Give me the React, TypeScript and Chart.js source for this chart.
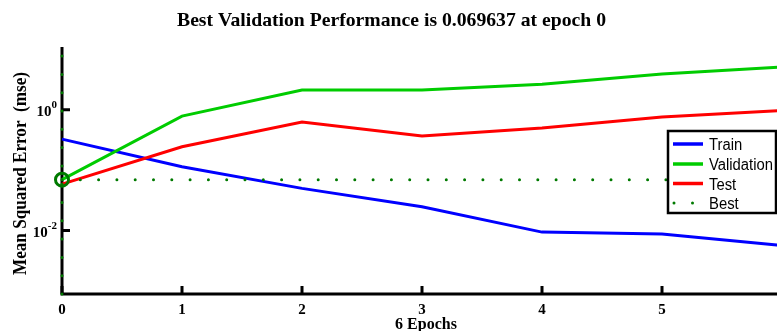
import React, { useEffect, useRef } from "react";
import { Chart, registerables } from "chart.js";

Chart.register(...registerables);

// ---- data ----
const epochs = [0, 1, 2, 3, 4, 5, 6];
const trainPerf = [0.327, 0.114, 0.05, 0.0248, 0.00944, 0.00875, 0.00564];
const validationPerf = [0.069637, 0.787, 2.12, 2.12, 2.66, 3.9, 5.13];
const testPerf = [0.0589, 0.244, 0.626, 0.367, 0.498, 0.757, 0.97];
const bestEpoch = 0;
const bestPerf = 0.069637;
const xTickValues = [0, 1, 2, 3, 4, 5, 6];
const yTickExponents = [0, -2];
const yMinExp = -3.05;
const yMaxExp = 1.04;
const legendLabels = ["Train", "Validation", "Test", "Best"];
const titleText = "Best Validation Performance is 0.069637 at epoch 0";
const xTitleText = "6 Epochs";
const yTitleText = "Mean Squared Error  (mse)";

const BLUE = "#0000ff";
const GREEN = "#00cc00";
const RED = "#ff0000";
const DARKGREEN = "#007a00";
const SERIF = '"Liberation Serif", "Times New Roman", serif';
const SANS = '"Liberation Sans", Arial, sans-serif';

function fitText(
  ctx: CanvasRenderingContext2D,
  text: string,
  x: number,
  y: number,
  width: number,
  align: CanvasTextAlign
) {
  const w = ctx.measureText(text).width;
  const sx = width / w;
  ctx.save();
  ctx.translate(x, y);
  ctx.scale(sx, 1);
  ctx.textAlign = align;
  ctx.fillText(text, 0, 0);
  ctx.restore();
}

export default function App() {
  const ref = useRef<HTMLCanvasElement | null>(null);

  useEffect(() => {
    const canvas = ref.current;
    if (!canvas) return;

    const decorPlugin = {
      id: "decor",
      beforeDatasetsDraw(chart: any) {
        const ctx: CanvasRenderingContext2D = chart.ctx;
        const { left, right, top, bottom } = chart.chartArea;
        const xs = chart.scales.x;
        const ys = chart.scales.y;
        ctx.save();
        ctx.strokeStyle = "#000";
        ctx.lineWidth = 3;
        ctx.lineCap = "butt";
        ctx.beginPath();
        ctx.moveTo(left, top);
        ctx.lineTo(left, bottom + 1.5);
        ctx.moveTo(left - 1.5, bottom);
        ctx.lineTo(right, bottom);
        ctx.stroke();
        ctx.beginPath();
        xTickValues.forEach((v) => {
          const px = xs.getPixelForValue(v);
          ctx.moveTo(px, bottom);
          ctx.lineTo(px, bottom - 8);
        });
        yTickExponents.forEach((e) => {
          const py = ys.getPixelForValue(Math.pow(10, e));
          ctx.moveTo(left, py);
          ctx.lineTo(left + 8, py);
        });
        ctx.stroke();
        ctx.restore();
      },
      afterDraw(chart: any) {
        const ctx: CanvasRenderingContext2D = chart.ctx;
        const { bottom } = chart.chartArea;
        const xs = chart.scales.x;
        const ys = chart.scales.y;
        ctx.save();
        ctx.fillStyle = "#000";
        ctx.textBaseline = "alphabetic";

        // title
        ctx.font = `bold 19px ${SERIF}`;
        fitText(ctx, titleText, 177, 26, 429, "left");

        // x tick labels
        ctx.font = `bold 15px ${SERIF}`;
        ctx.textAlign = "center";
        xTickValues.forEach((v) => {
          ctx.fillText(String(v), xs.getPixelForValue(v), bottom + 20);
        });

        // x title
        ctx.font = `bold 16px ${SERIF}`;
        ctx.textAlign = "center";
        ctx.fillText(xTitleText, 426, 329);

        // y tick labels 10^e
        yTickExponents.forEach((e) => {
          const py = ys.getPixelForValue(Math.pow(10, e));
          const expStr = e < 0 ? "-" + String(-e) : String(e);
          ctx.font = `bold 11px ${SERIF}`;
          ctx.textAlign = "right";
          const ew = ctx.measureText(expStr).width;
          ctx.fillText(expStr, 57, py - 2);
          ctx.font = `bold 15px ${SERIF}`;
          ctx.fillText("10", 57 - ew, py + 6);
        });

        // y title
        ctx.font = `bold 18px ${SERIF}`;
        ctx.save();
        ctx.translate(26, 275);
        ctx.rotate(-Math.PI / 2);
        fitText(ctx, yTitleText, 0, 0, 203, "left");
        ctx.restore();

        // legend
        const bx = 668, by = 131, bw = 108, bh = 82;
        ctx.fillStyle = "#fff";
        ctx.fillRect(bx, by, bw, bh);
        ctx.strokeStyle = "#000";
        ctx.lineWidth = 2.5;
        ctx.strokeRect(bx, by, bw, bh);
        const rowY = [144, 164, 183.5, 203];
        const colors = [BLUE, GREEN, RED, DARKGREEN];
        ctx.font = `16px ${SANS}`;
        const sx = 64 / ctx.measureText("Validation").width;
        legendLabels.forEach((lab, i) => {
          const y = rowY[i];
          if (i < 3) {
            ctx.strokeStyle = colors[i];
            ctx.lineWidth = 3.5;
            ctx.lineCap = "butt";
            ctx.beginPath();
            ctx.moveTo(673, y);
            ctx.lineTo(703, y);
            ctx.stroke();
          } else {
            ctx.fillStyle = DARKGREEN;
            [674, 692.5].forEach((dx) => {
              ctx.beginPath();
              ctx.arc(dx, y, 1.5, 0, Math.PI * 2);
              ctx.fill();
            });
          }
          ctx.fillStyle = "#000";
          ctx.save();
          ctx.translate(709, y + 6);
          ctx.scale(sx, 1);
          ctx.textAlign = "left";
          ctx.fillText(lab, 0, 0);
          ctx.restore();
        });
        ctx.restore();
      },
    };

    const yMin = Math.pow(10, yMinExp);
    const yMax = Math.pow(10, yMaxExp);
    const xMax = epochs[epochs.length - 1];
    const xy = (arr: number[]) => epochs.map((e, i) => ({ x: e, y: arr[i] }));

    const chart = new Chart(canvas, {
      type: "line",
      data: {
        datasets: [
          {
            label: "BestMarker",
            data: [{ x: bestEpoch, y: bestPerf }],
            showLine: false,
            pointRadius: 6.5,
            pointBorderWidth: 3,
            pointBorderColor: DARKGREEN,
            pointBackgroundColor: "rgba(0,0,0,0)",
            clip: false as any,
            order: 0,
          },
          {
            label: "BestH",
            data: [
              { x: 0, y: bestPerf },
              { x: xMax, y: bestPerf },
            ],
            borderColor: DARKGREEN,
            borderWidth: 3,
            borderDash: [0, 18.3],
            borderCapStyle: "round",
            pointRadius: 0,
            clip: false as any,
            order: 1,
          },
          {
            label: "BestV",
            data: [
              { x: bestEpoch, y: yMin },
              { x: bestEpoch, y: yMax },
            ],
            borderColor: DARKGREEN,
            borderWidth: 3,
            borderDash: [0, 18.3],
            borderCapStyle: "round",
            pointRadius: 0,
            clip: false as any,
            order: 1,
          },
          {
            label: "Test",
            data: xy(testPerf),
            borderColor: RED,
            borderWidth: 3,
            pointRadius: 0,
            tension: 0,
            clip: false as any,
            order: 2,
          },
          {
            label: "Validation",
            data: xy(validationPerf),
            borderColor: GREEN,
            borderWidth: 3,
            pointRadius: 0,
            tension: 0,
            clip: false as any,
            order: 3,
          },
          {
            label: "Train",
            data: xy(trainPerf),
            borderColor: BLUE,
            borderWidth: 3,
            pointRadius: 0,
            tension: 0,
            clip: false as any,
            order: 4,
          },
        ],
      },
      options: {
        animation: false,
        responsive: false,
        devicePixelRatio: 1,
        layout: { padding: { left: 62, top: 47, right: 18, bottom: 37 } },
        plugins: {
          legend: { display: false },
          title: { display: false },
          tooltip: { enabled: false },
        },
        scales: {
          x: { type: "linear", min: 0, max: xMax, display: false },
          y: { type: "logarithmic", min: yMin, max: yMax, display: false },
        },
      },
      plugins: [decorPlugin],
    });

    return () => chart.destroy();
  }, []);

  return (
    <div
      style={{
        position: "absolute",
        left: 0,
        top: 0,
        width: 777,
        height: 331,
        overflow: "hidden",
        background: "#fff",
      }}
    >
      <canvas ref={ref} width={800} height={331} style={{ width: 800, height: 331, display: "block" }} />
    </div>
  );
}
